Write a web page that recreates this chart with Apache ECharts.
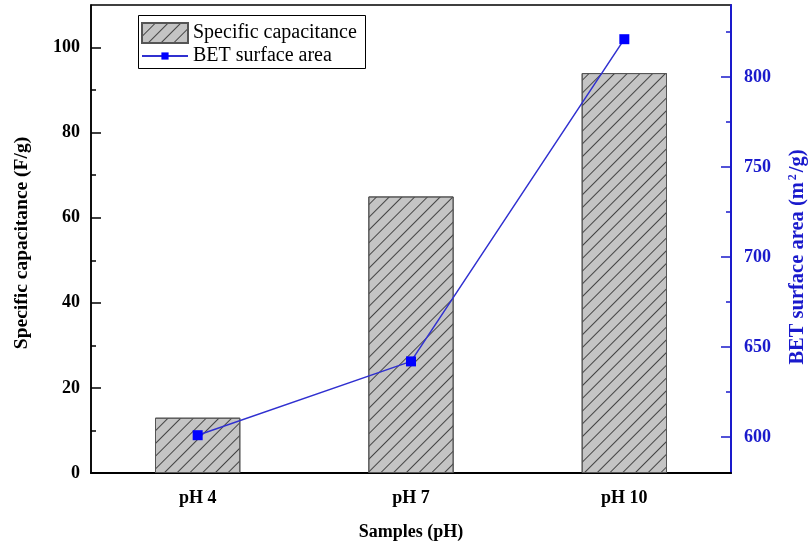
<!DOCTYPE html>
<html lang="en">

<head>
  <meta charset="UTF-8">
  <title>Specific capacitance and BET surface area</title>
  <style>
    html, body { margin: 0; padding: 0; background: #fff; }
  </style>
</head>

<body>
  <div id="main" style="width:809px;height:546px;"></div>
</body>
<script src="https://cdn.jsdelivr.net/npm/echarts@6/dist/echarts.min.js"></script>

<script>
  var samples = ['pH 4', 'pH 7', 'pH 10'];
  var capacitance = [13, 65, 94];
  var surfaceArea = [601, 642, 821];

  var leftLabels = [0, 20, 40, 60, 80, 100];
  var leftMinor = [10, 30, 50, 70, 90];
  var rightLabels = [600, 650, 700, 750, 800];
  var rightMinor = [625, 675, 725, 775, 825];

  var font = 'Liberation Serif';
  var blue = '#1a1acc';

  var myChart = echarts.init(document.getElementById('main'));

  function minorAxis(pos, min, max, values, color) {
    return {
      type: 'value',
      position: pos,
      min: min,
      max: max,
      axisLine: { show: false },
      axisLabel: { show: false },
      splitLine: { show: false },
      axisTick: {
        show: true, inside: true, length: 5,
        customValues: values,
        lineStyle: { color: color, width: 1.5 }
      }
    };
  }

  var legendText = { fontFamily: font, fontSize: 20, color: '#000' };

  myChart.setOption({
    backgroundColor: '#fff',
    animation: false,
    grid: {
      left: 91, right: 78, top: 5, bottom: 73,
      outerBoundsMode: 'none',
      show: true, borderColor: '#000', borderWidth: 1.5
    },
    // legend frame
    graphic: [{
      type: 'rect',
      left: 138, top: 15,
      shape: { width: 227, height: 53 },
      style: { fill: '#fff', stroke: '#000', lineWidth: 1 },
      z: 0
    }],
    legend: [{
      left: 141, top: 22,
      padding: 0,
      itemWidth: 46, itemHeight: 20,
      textStyle: legendText,
      data: [{ name: 'Specific capacitance', icon: 'rect' }]
    }, {
      left: 141, top: 46,
      padding: 0,
      itemWidth: 46, itemHeight: 9,
      textStyle: legendText,
      data: ['BET surface area']
    }],
    xAxis: {
      type: 'category',
      data: samples,
      name: 'Samples (pH)',
      nameLocation: 'middle',
      nameGap: 50,
      nameTextStyle: { fontFamily: font, fontSize: 18, fontWeight: 'bold', color: '#000' },
      axisLine: { lineStyle: { color: '#000', width: 2 } },
      axisTick: { show: false },
      axisLabel: { fontFamily: font, fontSize: 18, fontWeight: 'bold', color: '#000', margin: 16 }
    },
    yAxis: [{
      type: 'value',
      position: 'left',
      min: 0, max: 110,
      name: 'Specific capacitance (F/g)',
      nameLocation: 'middle',
      nameGap: 59,
      nameTextStyle: { fontFamily: font, fontSize: 19.5, fontWeight: 'bold', color: '#000', padding: [0, 8, 0, 0] },
      splitLine: { show: false },
      axisLine: { show: true, lineStyle: { color: '#000', width: 1.5 } },
      axisTick: {
        show: true, inside: true, length: 10,
        customValues: leftLabels,
        lineStyle: { color: '#000', width: 1.5 }
      },
      axisLabel: {
        customValues: leftLabels,
        fontFamily: font, fontSize: 18, fontWeight: 'bold', color: '#000', margin: 11
      }
    }, {
      type: 'value',
      position: 'right',
      min: 580, max: 840,
      name: 'BET surface area (m{sup|2}/g)',
      nameLocation: 'middle',
      nameGap: 56,
      nameRotate: 90,
      nameTextStyle: {
        fontFamily: font, fontSize: 20.5, fontWeight: 'bold', color: blue,
        padding: [0, 36, 0, 0],
        rich: { sup: { fontFamily: font, fontSize: 12, fontWeight: 'bold', color: blue, verticalAlign: 'top', padding: [0, 2, 8, 2] } }
      },
      splitLine: { show: false },
      axisLine: { show: true, lineStyle: { color: blue, width: 2 } },
      axisTick: {
        show: true, inside: true, length: 10,
        customValues: rightLabels,
        lineStyle: { color: blue, width: 1.5 }
      },
      axisLabel: {
        customValues: rightLabels,
        fontFamily: font, fontSize: 18, fontWeight: 'bold', color: blue, margin: 13
      }
    },
    minorAxis('left', 0, 110, leftMinor, '#000'),
    minorAxis('right', 580, 840, rightMinor, blue)
    ],
    series: [{
      name: 'Specific capacitance',
      type: 'bar',
      yAxisIndex: 0,
      barWidth: '40%',
      data: capacitance,
      itemStyle: {
        color: '#c4c4c4',
        borderColor: '#555',
        borderWidth: 1,
        decal: {
          symbol: 'rect',
          color: '#444',
          backgroundColor: null,
          dashArrayX: [1, 0],
          dashArrayY: [1, 8],
          rotation: -Math.PI / 4
        }
      }
    }, {
      name: 'BET surface area',
      type: 'line',
      yAxisIndex: 1,
      data: surfaceArea,
      symbol: 'rect',
      symbolSize: 10,
      itemStyle: { color: '#0000ff' },
      lineStyle: { color: '#3030d0', width: 1.5 },
      z: 5
    }]
  });
</script>

</html>
